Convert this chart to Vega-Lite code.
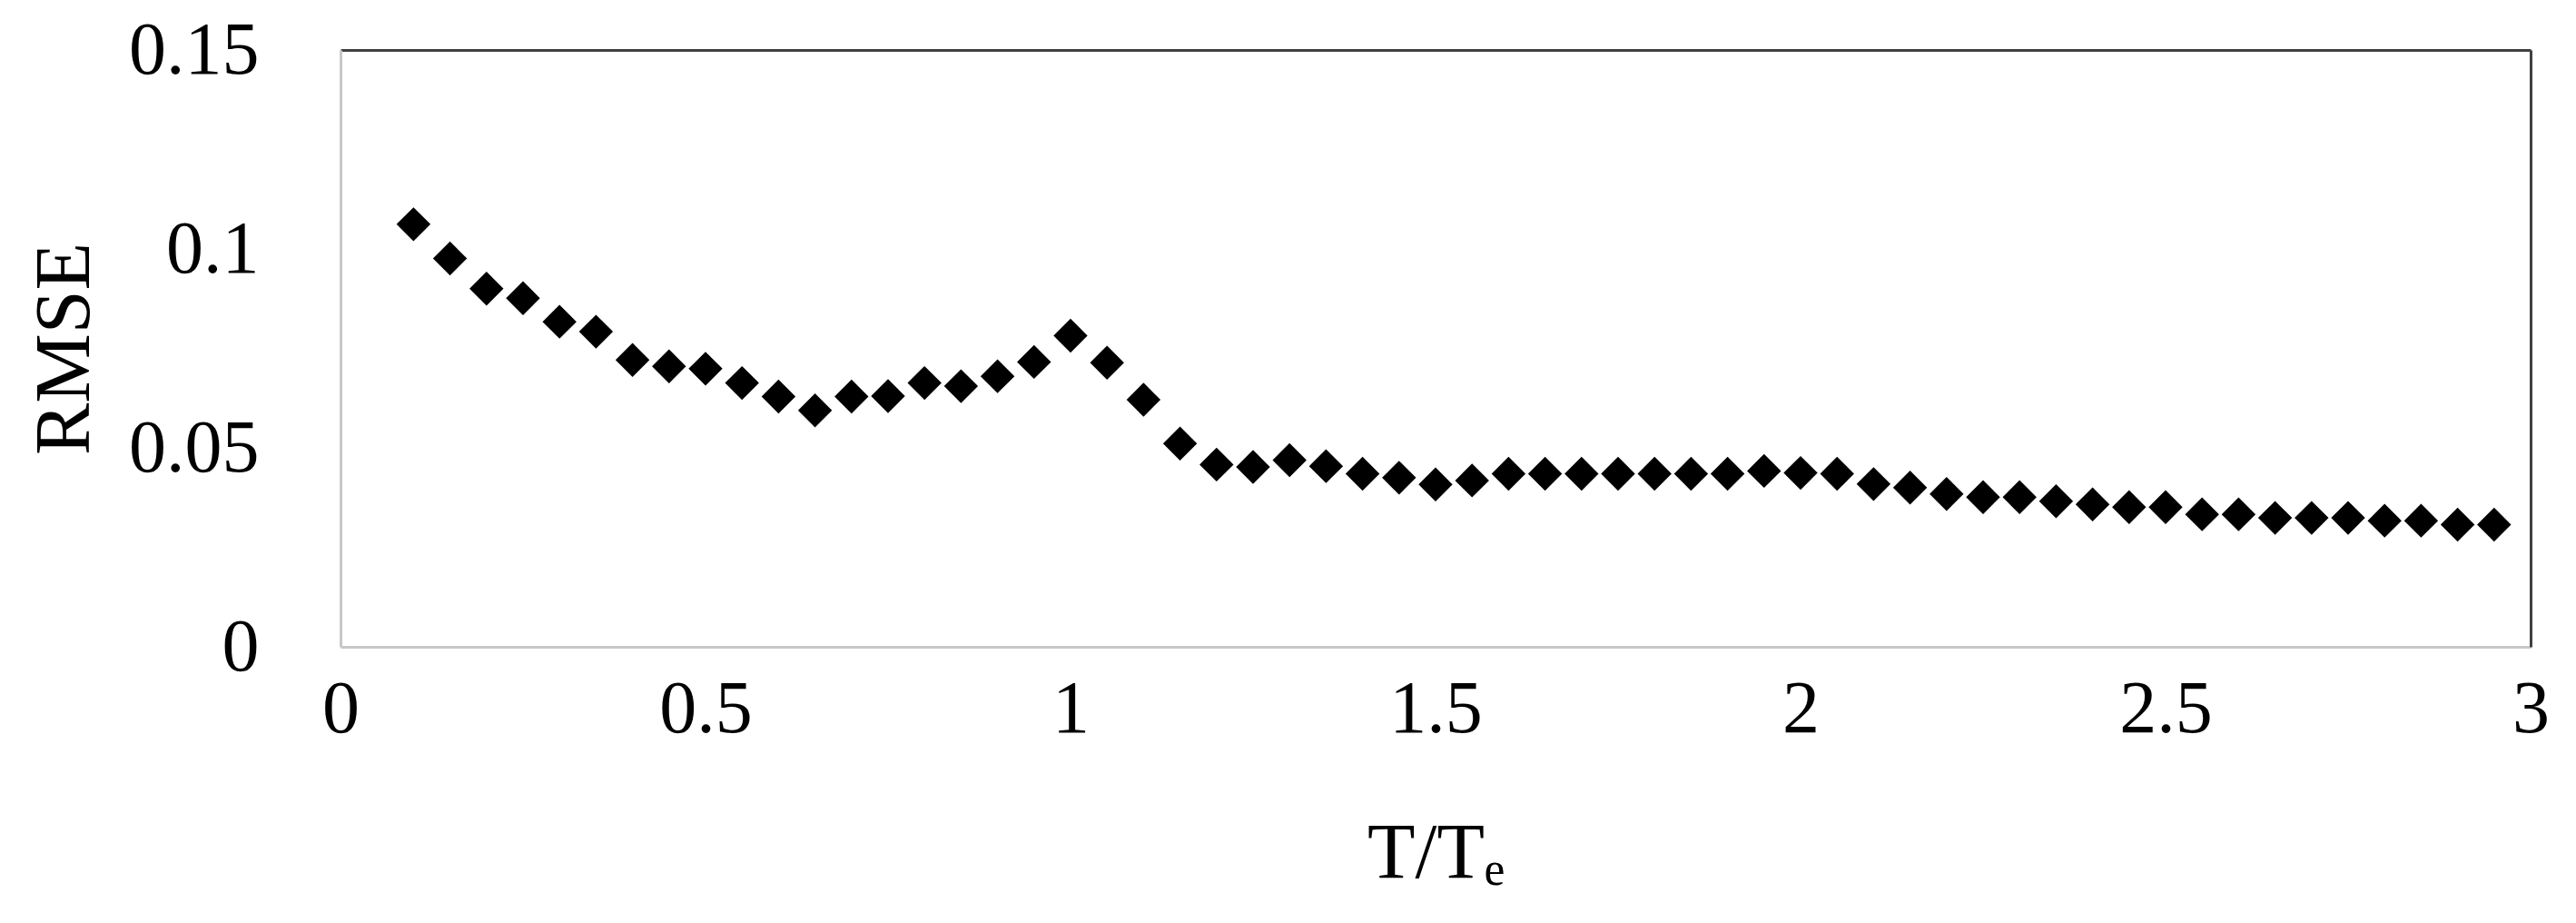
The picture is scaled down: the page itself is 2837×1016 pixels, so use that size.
{
  "$schema": "https://vega.github.io/schema/vega-lite/v6.json",
  "autosize": {"type": "none"},
  "padding": {"left": 375, "top": 55, "right": 50, "bottom": 304},
  "width": 2412,
  "height": 657,
  "background": "white",
  "config": {
    "view": {"stroke": null},
    "font": "Liberation Serif",
    "axis": {
      "grid": false,
      "ticks": false,
      "labelFont": "Liberation Serif",
      "titleFont": "Liberation Serif",
      "labelColor": "#000000",
      "titleColor": "#000000",
      "labelFontSize": 82,
      "titleFontSize": 86,
      "titleFontWeight": "normal",
      "labelFlush": false,
      "labelOverlap": false,
      "domainWidth": 3
    }
  },
  "data": {
    "values": [
      {"t": 0.1, "rmse": 0.1062},
      {"t": 0.15, "rmse": 0.0976},
      {"t": 0.2, "rmse": 0.0900},
      {"t": 0.25, "rmse": 0.0876},
      {"t": 0.3, "rmse": 0.0817},
      {"t": 0.35, "rmse": 0.0792},
      {"t": 0.4, "rmse": 0.0721},
      {"t": 0.45, "rmse": 0.0705},
      {"t": 0.5, "rmse": 0.0699},
      {"t": 0.55, "rmse": 0.0663},
      {"t": 0.6, "rmse": 0.0629},
      {"t": 0.65, "rmse": 0.0594},
      {"t": 0.7, "rmse": 0.0629},
      {"t": 0.75, "rmse": 0.0630},
      {"t": 0.8, "rmse": 0.0663},
      {"t": 0.85, "rmse": 0.0655},
      {"t": 0.9, "rmse": 0.0680},
      {"t": 0.95, "rmse": 0.0716},
      {"t": 1.0, "rmse": 0.0782},
      {"t": 1.05, "rmse": 0.0714},
      {"t": 1.1, "rmse": 0.0621},
      {"t": 1.15, "rmse": 0.0511},
      {"t": 1.2, "rmse": 0.0458},
      {"t": 1.25, "rmse": 0.0452},
      {"t": 1.3, "rmse": 0.0469},
      {"t": 1.35, "rmse": 0.0454},
      {"t": 1.4, "rmse": 0.0435},
      {"t": 1.45, "rmse": 0.0425},
      {"t": 1.5, "rmse": 0.0408},
      {"t": 1.55, "rmse": 0.0418},
      {"t": 1.6, "rmse": 0.0435},
      {"t": 1.65, "rmse": 0.0435},
      {"t": 1.7, "rmse": 0.0435},
      {"t": 1.75, "rmse": 0.0435},
      {"t": 1.8, "rmse": 0.0435},
      {"t": 1.85, "rmse": 0.0435},
      {"t": 1.9, "rmse": 0.0435},
      {"t": 1.95, "rmse": 0.0442},
      {"t": 2.0, "rmse": 0.0437},
      {"t": 2.05, "rmse": 0.0435},
      {"t": 2.1, "rmse": 0.0409},
      {"t": 2.15, "rmse": 0.0400},
      {"t": 2.2, "rmse": 0.0384},
      {"t": 2.25, "rmse": 0.0376},
      {"t": 2.3, "rmse": 0.0376},
      {"t": 2.35, "rmse": 0.0366},
      {"t": 2.4, "rmse": 0.0358},
      {"t": 2.45, "rmse": 0.0351},
      {"t": 2.5, "rmse": 0.0351},
      {"t": 2.55, "rmse": 0.0333},
      {"t": 2.6, "rmse": 0.0333},
      {"t": 2.65, "rmse": 0.0324},
      {"t": 2.7, "rmse": 0.0324},
      {"t": 2.75, "rmse": 0.0324},
      {"t": 2.8, "rmse": 0.0317},
      {"t": 2.85, "rmse": 0.0317},
      {"t": 2.9, "rmse": 0.0307},
      {"t": 2.95, "rmse": 0.0307}
    ]
  },
  "layer": [
    {
      "mark": {"type": "point", "opacity": 0},
      "encoding": {
        "x": {"field": "t", "type": "quantitative", "scale": {"domain": [0, 3], "nice": false, "zero": false},
              "axis": {"orient": "top", "labels": false, "title": null, "domainColor": "#404040", "values": [0, 3]}},
        "y": {"field": "rmse", "type": "quantitative", "scale": {"domain": [0, 0.15], "nice": false},
              "axis": {"orient": "right", "labels": false, "title": null, "domainColor": "#404040", "values": [0, 0.15]}}
      }
    },
    {
      "mark": {"type": "point", "shape": "diamond", "filled": true, "color": "#000000", "opacity": 1, "size": 1400},
      "encoding": {
        "x": {"field": "t", "type": "quantitative", "scale": {"domain": [0, 3], "nice": false, "zero": false},
              "axis": {"orient": "bottom", "title": "T/Tₑ", "values": [0, 0.5, 1, 1.5, 2, 2.5, 3], "format": ".1~f",
                       "domainColor": "#c8c8c8", "labelPadding": 28, "titlePadding": 76}},
        "y": {"field": "rmse", "type": "quantitative", "scale": {"domain": [0, 0.15], "nice": false},
              "axis": {"orient": "left", "title": "RMSE", "values": [0, 0.05, 0.1, 0.15], "format": ".2~f",
                       "domainColor": "#c8c8c8", "labelPadding": 90, "titlePadding": 60}}
      }
    }
  ],
  "resolve": {"axis": {"x": "independent", "y": "independent"}}
}
